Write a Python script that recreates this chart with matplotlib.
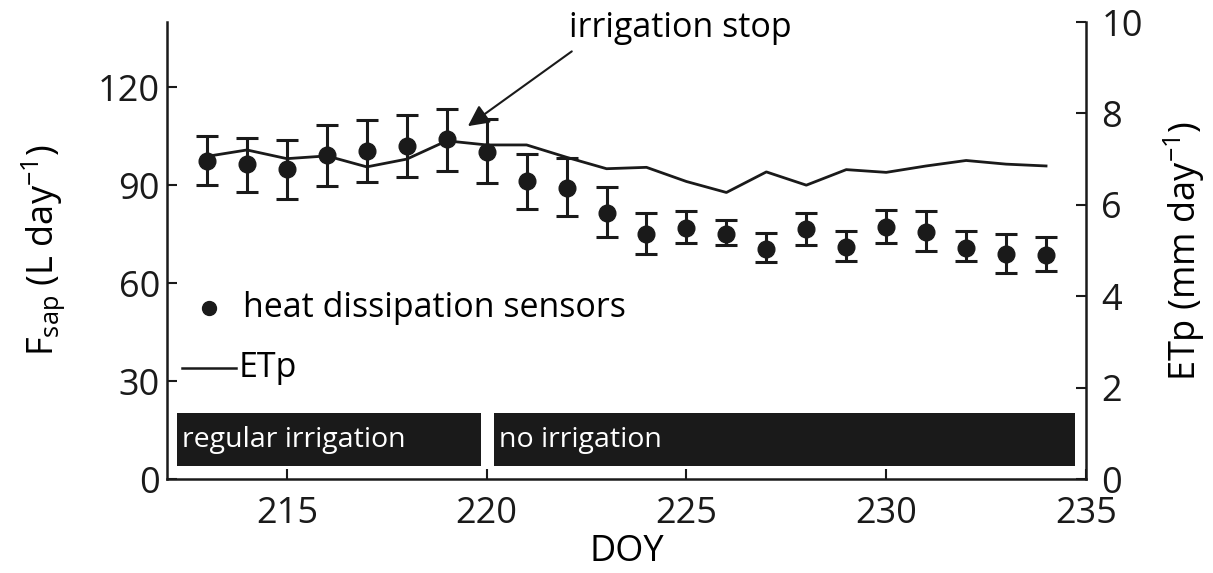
import numpy as np
import matplotlib.pyplot as plt

plt.rcParams['font.family'] = ['Open Sans', 'DejaVu Sans']
plt.rcParams['mathtext.default'] = 'regular'

# Daily sap flow (mean and bounds of error bars) and potential evapotranspiration
doy = np.arange(213, 235)
fsap = [97.4, 96.5, 94.9, 99.2, 100.4, 101.9, 104.1, 100.1, 91.3, 89.2, 81.6,
        75.1, 77.0, 75.1, 70.6, 76.6, 71.2, 77.3, 75.7, 70.9, 69.0, 68.7]
fsap_hi = [105.0, 104.6, 103.8, 108.6, 109.9, 111.6, 113.5, 110.2, 99.5, 98.3, 89.5,
           81.5, 82.1, 79.4, 75.4, 81.5, 76.1, 82.5, 82.1, 76.1, 75.1, 74.2]
fsap_lo = [90.1, 87.9, 85.8, 89.8, 91.0, 92.5, 94.3, 90.6, 82.8, 80.6, 74.2,
           69.0, 72.4, 71.8, 66.6, 71.8, 66.9, 72.4, 70.0, 66.9, 63.0, 63.6]
etp = [7.06, 7.20, 7.01, 7.07, 6.83, 7.00, 7.40, 7.31, 7.31, 7.04, 6.79,
       6.82, 6.51, 6.27, 6.72, 6.43, 6.77, 6.71, 6.85, 6.97, 6.89, 6.85]

# Irrigation periods: (start, end, label)
periods = [(212.25, 219.86, 'regular irrigation'), (220.18, 234.73, 'no irrigation')]

ink = '#1a1a1a'
fs = 26

fig = plt.figure(figsize=(12.13, 5.73), dpi=100)
ax = fig.add_axes([0.1377, 0.164, 0.7576, 0.7976])
ax2 = ax.twinx()

fsap = np.array(fsap)
yerr = [fsap - np.array(fsap_lo), np.array(fsap_hi) - fsap]
ax.errorbar(doy, fsap, yerr=yerr, fmt='o', color=ink, ms=12, elinewidth=2.2,
            capsize=8, capthick=2.2, zorder=3)
ax2.plot(doy, etp, color=ink, lw=2.0, zorder=2)

for x0, x1, lab in periods:
    ax.fill_between([x0, x1], 4, 20.2, color=ink, lw=0)
    ax.text(x0 + 0.12, 12.1, lab, color='white', fontsize=20.5, va='center', ha='left')

# Legend drawn by hand inside the axes
ax.plot([213.05], [52.4], 'o', color=ink, ms=10)
ax.text(213.9, 52.4, 'heat dissipation sensors', fontsize=24.5, va='center', ha='left')
ax.plot([212.38, 213.73], [34.0, 34.0], color=ink, lw=1.8)
ax.text(213.8, 34.0, 'ETp', fontsize=24.5, va='center', ha='left')

ax.text(222.05, 138.2, 'irrigation stop', fontsize=24.5, ha='left', va='center')
ax.annotate('', xy=(219.53, 108.1), xytext=(222.13, 131.0),
            arrowprops=dict(arrowstyle='-|>', color=ink, lw=1.5,
                            mutation_scale=32, shrinkA=0, shrinkB=0))

ax.set_xlim(212, 235)
ax.set_ylim(0, 140)
ax2.set_ylim(0, 10)
ax.set_xticks([215, 220, 225, 230, 235])
ax.set_yticks([0, 30, 60, 90, 120])
ax2.set_yticks([0, 2, 4, 6, 8, 10])

for a in (ax, ax2):
    a.tick_params(direction='in', length=7, width=1.5, labelsize=fs, colors=ink, pad=5)
    for s in a.spines.values():
        s.set_linewidth(1.8)
        s.set_color(ink)
    a.spines['top'].set_visible(False)
ax.spines['right'].set_visible(False)
ax2.spines['left'].set_visible(False)
ax2.spines['bottom'].set_visible(False)
ax.tick_params(axis='x', pad=12)
ax2.tick_params(axis='y', pad=11)

ax.set_xlabel('DOY', fontsize=fs, labelpad=2)
ax.set_ylabel(r'F$_{sap}$ (L day$^{-1}$)', fontsize=fs, labelpad=22)
ax2.set_ylabel(r'ETp (mm day$^{-1}$)', fontsize=fs, labelpad=14)

fig.savefig('out.png', dpi=100)
